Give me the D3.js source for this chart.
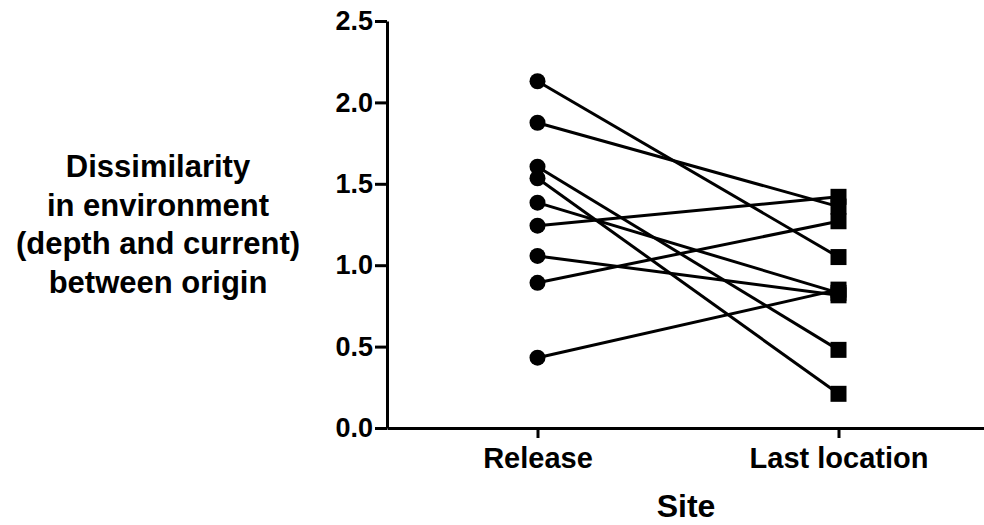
<html lang="en">
  <head>
    <meta charset="UTF-8" />
    <title>Site dissimilarity</title>
    <script src="https://d3js.org/d3.v7.min.js"></script>
    <style>
      * {
        margin: 0;
        padding: 0;
      }
      body {
        background: #fff;
      }
      text {
        font-family: "Liberation Sans", Arial, sans-serif;
        font-weight: bold;
        fill: #000;
      }
    </style>
  </head>
  <body>
    <div id="chart"></div>
    <script>
      const sites = ["Release", "Last location"];
      const releaseValues = [2.13, 1.875, 1.605, 1.534, 1.384, 1.243, 1.057, 0.892, 0.432];
      const lastValues = [1.05, 1.36, 0.48, 0.21, 0.83, 1.42, 0.815, 1.27, 0.85];
      const yTicks = [0, 0.5, 1.0, 1.5, 2.0, 2.5];
      const yTitle = ["Dissimilarity", "in environment", "(depth and current)", "between origin"];

      const width = 984;
      const height = 525;

      const svg = d3
        .select("#chart")
        .append("svg")
        .attr("width", width)
        .attr("height", height);

      const x = d3.scalePoint().domain(sites).range([387, 989]).padding(0.5);
      const y = d3.scaleLinear().domain([0, 2.5]).range([428, 21]);

      // y axis
      const yAxis = svg
        .append("g")
        .attr("transform", "translate(387,0)")
        .call(
          d3.axisLeft(y).tickValues(yTicks).tickFormat(d3.format(".1f")).tickSize(12).tickSizeOuter(0)
        );
      yAxis.select(".domain").attr("stroke", "#000").attr("stroke-width", 3);
      yAxis.selectAll(".tick line").attr("stroke", "#000").attr("stroke-width", 3);
      yAxis
        .selectAll(".tick text")
        .attr("x", -14)
        .style("font-size", "27px")
        .style("font-family", "Liberation Sans, Arial, sans-serif")
        .style("font-weight", "bold");

      // x axis
      const xAxis = svg
        .append("g")
        .attr("transform", "translate(0,428)")
        .call(d3.axisBottom(x).tickSize(10).tickSizeOuter(0));
      xAxis.select(".domain").attr("stroke", "#000").attr("stroke-width", 3);
      xAxis.selectAll(".tick line").attr("stroke", "#000").attr("stroke-width", 3);
      xAxis
        .selectAll(".tick text")
        .attr("y", 19)
        .style("font-size", "29px")
        .style("font-family", "Liberation Sans, Arial, sans-serif")
        .style("font-weight", "bold");

      // paired lines
      const pairs = releaseValues.map((v, i) => [v, lastValues[i]]);
      svg
        .append("g")
        .selectAll("line")
        .data(pairs)
        .join("line")
        .attr("x1", x(sites[0]))
        .attr("x2", x(sites[1]))
        .attr("y1", (d) => y(d[0]))
        .attr("y2", (d) => y(d[1]))
        .attr("stroke", "#000")
        .attr("stroke-width", 3);

      svg
        .append("g")
        .selectAll("circle")
        .data(releaseValues)
        .join("circle")
        .attr("cx", x(sites[0]))
        .attr("cy", (d) => y(d))
        .attr("r", 8)
        .attr("fill", "#000");

      const sq = 16;
      svg
        .append("g")
        .selectAll("rect")
        .data(lastValues)
        .join("rect")
        .attr("x", x(sites[1]) - sq / 2)
        .attr("y", (d) => y(d) - sq / 2)
        .attr("width", sq)
        .attr("height", sq)
        .attr("fill", "#000");

      // titles
      svg
        .append("text")
        .attr("x", 686)
        .attr("y", 517)
        .attr("text-anchor", "middle")
        .style("font-size", "32px")
        .text("Site");

      svg
        .append("g")
        .selectAll("text")
        .data(yTitle)
        .join("text")
        .attr("x", 158)
        .attr("y", (d, i) => 177 + i * 38.5)
        .attr("text-anchor", "middle")
        .style("font-size", "31px")
        .text((d) => d);
    </script>
  </body>
</html>
